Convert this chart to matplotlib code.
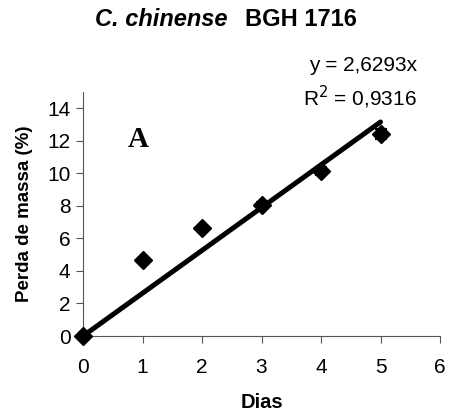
import matplotlib
matplotlib.use("Agg")
import matplotlib.pyplot as plt
import numpy as np

dias = [0, 1, 2, 3, 4, 5]
perda = [0.0, 4.65, 6.63, 8.02, 10.16, 12.43]
erro = [0.0, 0.12, 0.15, 0.22, 0.25, 0.30]
slope = 2.6293
r2 = 0.9316
xticks = [0, 1, 2, 3, 4, 5, 6]
yticks = [0, 2, 4, 6, 8, 10, 12, 14]

plt.rcParams['font.family'] = ['Liberation Sans', 'DejaVu Sans']

fig = plt.figure(figsize=(4.49, 4.16), dpi=100)
ax = fig.add_axes([0.185, 0.1923, 0.795, 0.587])

fit_x = np.array([dias[0], dias[-1]])
ax.plot(fit_x, slope * fit_x, color='black', lw=3.6, solid_capstyle='round', zorder=2)
ax.errorbar(dias, perda, yerr=erro, fmt='D', color='black', ms=9,
            capsize=4, elinewidth=1.5, capthick=1.5, clip_on=False, zorder=3)

ax.set_xlim(0, 6)
ax.set_ylim(0, 15)
ax.set_xticks(xticks)
ax.set_yticks(yticks)
ax.tick_params(labelsize=15, direction='out', length=5, width=0.8, color='#555555', pad=11)
ax.tick_params(axis='y', pad=4)
for s in ['top', 'right']:
    ax.spines[s].set_visible(False)
for s in ['left', 'bottom']:
    ax.spines[s].set_color('#555555')
    ax.spines[s].set_linewidth(0.8)

ax.set_xlabel('Dias', fontsize=14.5, fontweight='bold', labelpad=11)
ax.set_ylabel('Perda de massa (%)', fontsize=13.5, fontweight='bold', labelpad=10)

ax.text(0.93, 12.1, 'A', fontsize=21, fontweight='bold', family='Liberation Serif',
        ha='center', va='center')

fig.text(0.212, 0.952, 'C. chinense', fontsize=17, fontweight='bold', style='italic',
         ha='left', va='center')
fig.text(0.546, 0.952, 'BGH 1716', fontsize=17, fontweight='bold', ha='left', va='center')

fig.text(0.929, 0.843, 'y = 2,6293x', fontsize=15, ha='right', va='center')
fig.text(0.929, 0.767, 'R$^2$ = 0,9316', fontsize=15, ha='right', va='center')

fig.savefig('out.png', dpi=100)
